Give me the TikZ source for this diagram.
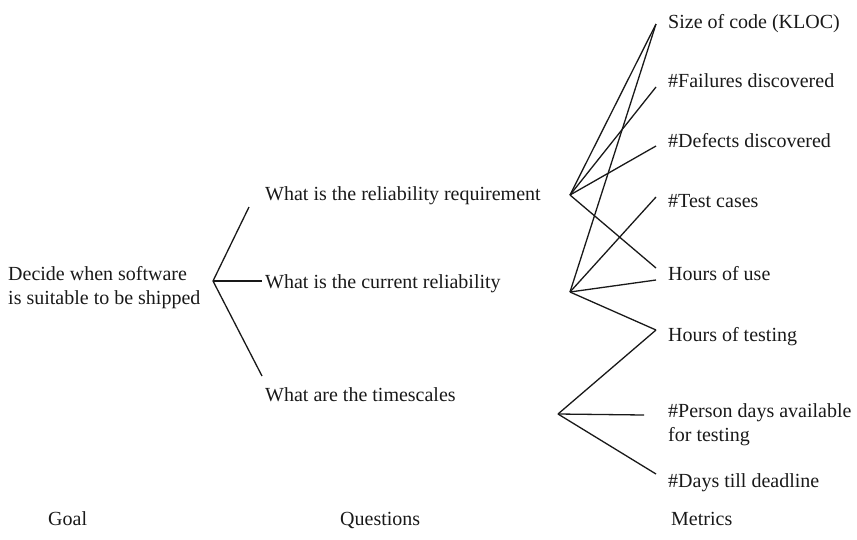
\documentclass[tikz,border=0pt]{standalone}
\usepackage{fontspec}
\setmainfont{Liberation Serif}
\begin{document}
\begin{tikzpicture}[x=1pt,y=-1pt,
  lbl/.style={anchor=base west,inner sep=0pt,font=\fontsize{20}{24}\selectfont,text=black!90},
  conn/.style={line width=1.3pt,black!90}]
\useasboundingbox (0,0) rectangle (857,539);
% goal
\node[lbl,align=left] (goal) at (8,304) {Decide when software\\is suitable to be shipped};
% questions
\node[lbl] (qreq) at (265,200) {What is the reliability requirement};
\node[lbl] (qcur) at (265,288) {What is the current reliability};
\node[lbl] (qtime) at (265,401) {What are the timescales};
% metrics
\node[lbl] (msize) at (668,28) {Size of code (KLOC)};
\node[lbl] (mfail) at (668,87) {\#Failures discovered};
\node[lbl] (mdef) at (668,147) {\#Defects discovered};
\node[lbl] (mtest) at (668,207) {\#Test cases};
\node[lbl] (muse) at (668,280) {Hours of use};
\node[lbl] (mtesting) at (668,341) {Hours of testing};
\node[lbl,align=left] (mperson) at (668,441) {\#Person days available\\for testing};
\node[lbl] (mdays) at (668,487) {\#Days till deadline};
% column headers
\node[lbl] (hgoal) at (48,525) {Goal};
\node[lbl] (hq) at (340,525) {Questions};
\node[lbl] (hm) at (671,525) {Metrics};
% connector points
\coordinate (g) at (213,281);
\coordinate (g1) at (249,207);
\coordinate (g2) at (262,281);
\coordinate (g3) at (262,376);
\coordinate (r) at (570,195);
\coordinate (c) at (570,292);
\coordinate (t) at (558,414);
\coordinate (e1) at (656,24);
\coordinate (e2) at (656,87);
\coordinate (e3) at (656,146);
\coordinate (e4) at (656,197);
\coordinate (e5a) at (656,268);
\coordinate (e5b) at (656,280);
\coordinate (e6) at (656,330);
\coordinate (e7) at (644,415);
\coordinate (e8) at (656,474);
% goal to questions
\draw[conn] (g1) -- (g) -- (g3);
\draw[conn] (g) -- (g2);
% reliability requirement
\draw[conn] (r) -- (e1);
\draw[conn] (r) -- (e2);
\draw[conn] (r) -- (e3);
\draw[conn] (r) -- (e5a);
% current reliability
\draw[conn] (c) -- (e1);
\draw[conn] (c) -- (e4);
\draw[conn] (c) -- (e5b);
\draw[conn] (c) -- (e6);
% timescales
\draw[conn] (t) -- (e6);
\draw[conn] (t) -- (e7);
\draw[conn] (t) -- (e8);
\end{tikzpicture}
\end{document}
